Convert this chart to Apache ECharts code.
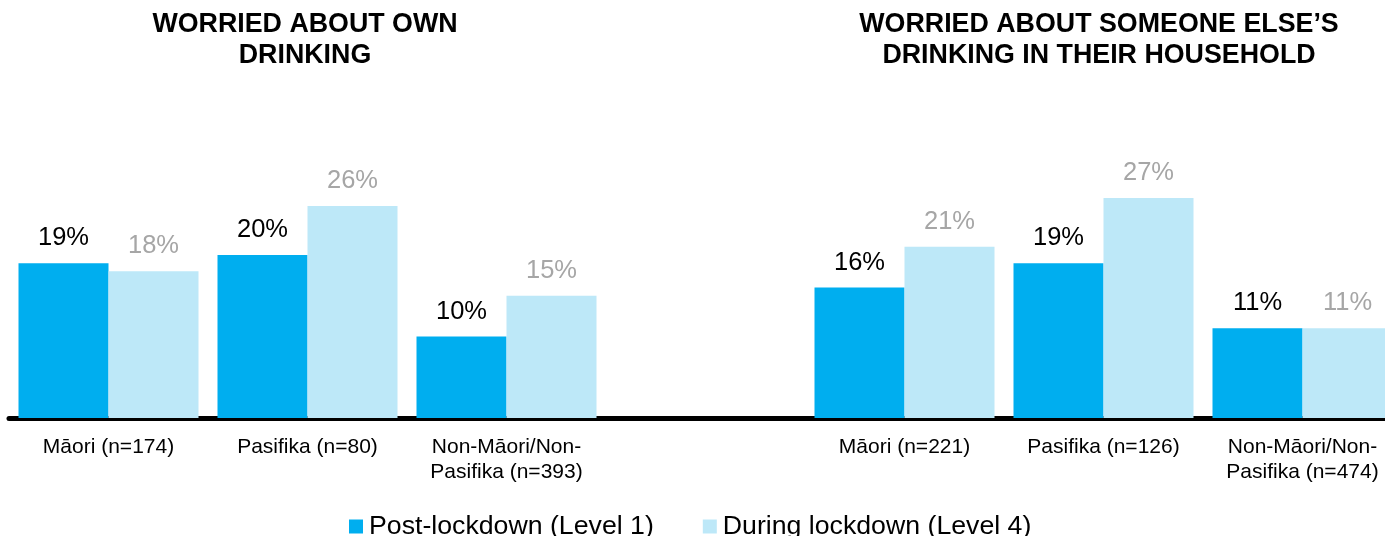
<!DOCTYPE html>
<html>
<head>
<meta charset="utf-8">
<script src="https://cdn.jsdelivr.net/npm/echarts@6/dist/echarts.min.js"></script>
<style>html,body{margin:0;padding:0;background:#fff}#c{width:1385px;height:536px}</style>
</head>
<body>
<div id="c"></div>
<script>
// ---- data ----
var panelTitles = ['WORRIED ABOUT OWN\nDRINKING', 'WORRIED ABOUT SOMEONE ELSE\u2019S\nDRINKING IN THEIR HOUSEHOLD'];
var leftCategories = ['M\u0101ori (n=174)', 'Pasifika (n=80)', 'Non-M\u0101ori/Non-\nPasifika (n=393)'];
var rightCategories = ['M\u0101ori (n=221)', 'Pasifika (n=126)', 'Non-M\u0101ori/Non-\nPasifika (n=474)'];
var seriesNames = ['Post-lockdown (Level 1)', 'During lockdown (Level 4)'];
var leftPost = [19, 20, 10];
var leftDuring = [18, 26, 15];
var rightPost = [16, 19, 11];
var rightDuring = [21, 27, 11];

// combine both panels on one axis with an empty spacer category between them
var categories = leftCategories.concat(['']).concat(rightCategories);
var postData = leftPost.concat([null]).concat(rightPost);
var duringData = leftDuring.concat([null]).concat(rightDuring);

var FONT = "'Liberation Sans', Arial, sans-serif";
var chart = echarts.init(document.getElementById('c'));
chart.setOption({
  animation: false,
  textStyle: { fontFamily: FONT },
  title: [
    { text: panelTitles[0], left: 305, top: 9, textAlign: 'center', padding: 0,
      textStyle: { fontFamily: FONT, fontSize: 26.8, fontWeight: 'bold', color: '#000', lineHeight: 31 } },
    { text: panelTitles[1], left: 1099, top: 9, textAlign: 'center', padding: 0,
      textStyle: { fontFamily: FONT, fontSize: 26.8, fontWeight: 'bold', color: '#000', lineHeight: 31 } }
  ],
  legend: {
    data: seriesNames,
    left: 349,
    top: 513,
    padding: 0,
    icon: 'rect',
    itemWidth: 14,
    itemHeight: 14,
    itemGap: 49,
    textStyle: { fontFamily: FONT, fontSize: 26.7, color: '#000', padding: [0, 0, 0, 1] }
  },
  grid: { left: 9, width: 1393, top: 173.5, bottom: 118, containLabel: false, outerBoundsMode: 'none' },
  xAxis: {
    type: 'category',
    data: categories,
    offset: 3,
    axisLine: { lineStyle: { color: '#000', width: 5 } },
    axisTick: { show: false },
    axisLabel: { interval: 0, margin: 14, fontFamily: FONT, fontSize: 21, color: '#000', lineHeight: 25 }
  },
  yAxis: { type: 'value', min: 0, max: 30, show: false, splitLine: { show: false } },
  series: [
    { name: seriesNames[0], type: 'bar', data: postData, barWidth: 90, barGap: '0%',
      itemStyle: { color: '#00AEEF' },
      label: { show: true, position: 'top', distance: 12, formatter: '{c}%',
        fontFamily: FONT, fontSize: 25.5, color: '#000' } },
    { name: seriesNames[1], type: 'bar', data: duringData, barWidth: 90, barGap: '0%',
      itemStyle: { color: '#BDE8F8' },
      label: { show: true, position: 'top', distance: 12, formatter: '{c}%',
        fontFamily: FONT, fontSize: 25.5, color: '#A6A6A6' } }
  ]
});
</script>
</body>
</html>
